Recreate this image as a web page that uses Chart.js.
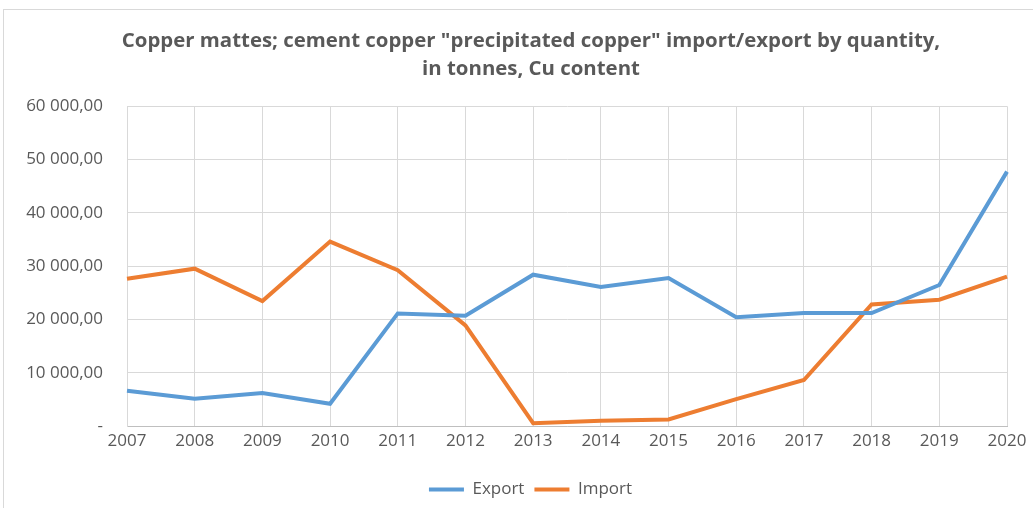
<!DOCTYPE html>
<html>
<head>
<meta charset="utf-8">
<script src="https://cdn.jsdelivr.net/npm/chart.js@4.4.0/dist/chart.umd.min.js"></script>
<style>
  html, body { margin: 0; padding: 0; background: #fff; overflow: hidden; }
  #frame { position: absolute; left: 3px; top: 9px; width: 1100px; height: 560px; border: 1px solid #d9d9d9; }
  #wrap { position: absolute; left: 0; top: 0; width: 1033px; height: 508px; }
</style>
</head>
<body>
<div id="frame"></div>
<div id="wrap"><canvas id="grafico" width="1033" height="508"></canvas></div>
<script>
// dados
var anos = ['2007','2008','2009','2010','2011','2012','2013','2014','2015','2016','2017','2018','2019','2020'];
var exportacao = [6630, 5120, 6180, 4180, 21130, 20680, 28400, 26080, 27780, 20430, 21190, 21190, 26460, 47740];
var importacao = [27650, 29530, 23450, 34620, 29230, 18870, 530, 980, 1220, 5050, 8630, 22820, 23700, 28020];
var ticksY = [0, 10000, 20000, 30000, 40000, 50000, 60000];

var corTexto = '#595959';
var fonte = '"Open Sans", sans-serif';

// formata 60000 -> "60 000,00", zero vira "-"
function formataNumero(v) {
  if (v === 0) return '-';
  var s = String(Math.round(v));
  s = s.replace(/\B(?=(\d{3})+(?!\d))/g, ' ');
  return s + ',00';
}

// desloca título e legenda um pouco para a direita, como no original
var deslocaBlocos = {
  id: 'deslocaBlocos',
  afterLayout: function (chart) {
    if (chart.titleBlock) chart.titleBlock.left += 35;
    if (chart.legend) {
      chart.legend.left += 17;
      chart.legend.right += 17;
    }
  }
};

var ctx = document.getElementById('grafico').getContext('2d');
var grafico = new Chart(ctx, {
  type: 'line',
  data: {
    labels: anos,
    datasets: [{
      label: 'Export',
      data: exportacao,
      borderColor: '#5b9bd5',
      backgroundColor: '#5b9bd5',
      borderWidth: 4,
      pointRadius: 0,
      tension: 0
    }, {
      label: 'Import',
      data: importacao,
      borderColor: '#ed7d31',
      backgroundColor: '#ed7d31',
      borderWidth: 4,
      pointRadius: 0,
      tension: 0
    }]
  },
  plugins: [deslocaBlocos],
  options: {
    responsive: false,
    animation: false,
    layout: { padding: { left: 20, right: 26, top: 25, bottom: 0 } },
    plugins: {
      title: {
        display: true,
        text: ['Copper mattes; cement copper "precipitated copper" import/export by quantity,', 'in tonnes, Cu content'],
        color: corTexto,
        font: { family: fonte, size: 20.4, weight: 'bold', lineHeight: 1.38 },
        padding: { top: 2, bottom: 23 }
      },
      legend: {
        position: 'bottom',
        labels: {
          color: corTexto,
          font: { family: fonte, size: 17 },
          boxWidth: 35,
          boxHeight: 4,
          padding: 10,
          generateLabels: function (chart) {
            return chart.data.datasets.map(function (ds, i) {
              return {
                text: ds.label,
                fillStyle: ds.borderColor,
                strokeStyle: ds.borderColor,
                lineWidth: 0,
                fontColor: corTexto,
                datasetIndex: i
              };
            });
          }
        }
      },
      tooltip: { enabled: false }
    },
    scales: {
      x: {
        offset: false,
        afterFit: function (s) { s.height = 45; },
        grid: { color: '#d9d9d9', lineWidth: 1, drawTicks: false },
        border: { color: '#bfbfbf', width: 1 },
        ticks: { color: corTexto, font: { family: fonte, size: 17 }, padding: 5, maxRotation: 0, autoSkip: false }
      },
      y: {
        min: 0,
        max: 60000,
        afterFit: function (s) { s.width = 107; },
        afterBuildTicks: function (s) { s.ticks = ticksY.map(function (v) { return { value: v }; }); },
        grid: { color: '#d9d9d9', lineWidth: 1, drawTicks: false },
        border: { color: '#d9d9d9', width: 1 },
        ticks: {
          color: corTexto,
          font: { family: fonte, size: 17 },
          padding: 24,
          callback: function (v) { return formataNumero(v); }
        }
      }
    }
  }
});
</script>
</body>
</html>
